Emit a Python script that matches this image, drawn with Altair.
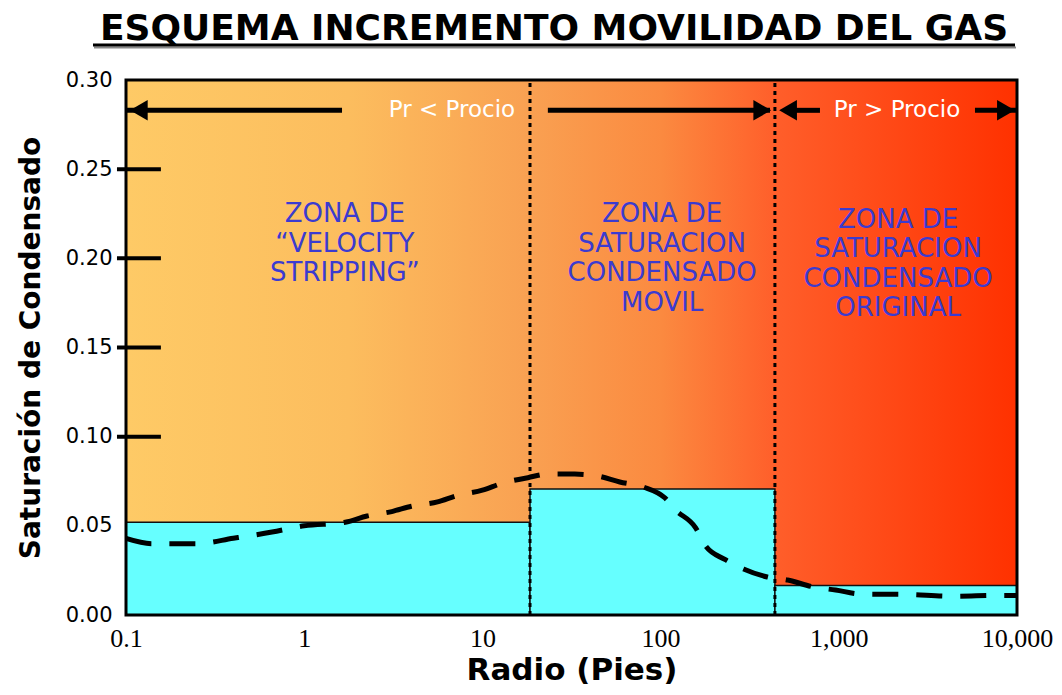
import altair as alt
import pandas as pd

# ---------------- data ----------------
title_text = "ESQUEMA INCREMENTO MOVILIDAD DEL GAS"
x_title = "Radio (Pies)"
y_title = "Saturación de Condensado"

x_ticks = [0.1, 1, 10, 100, 1000, 10000]
y_ticks = [0.0, 0.05, 0.10, 0.15, 0.20, 0.25, 0.30]
inner_ticks = [0.10, 0.15, 0.20, 0.25]

zone_edges = [0.1, 18.5, 438, 10000]
cyan_levels = [0.052, 0.0707, 0.0165]

curve_x = [0.1, 0.14, 0.25, 0.4, 0.66, 1.0, 1.7, 2.25, 3.1, 4.0, 5.6, 7.2, 10, 13, 18,
           23, 33, 44, 59, 80, 106, 121, 157, 178, 231, 292, 397, 516, 723, 960,
           1320, 2400, 4350, 8000, 10000]
curve_y = [0.043, 0.040, 0.040, 0.043, 0.0465, 0.050, 0.052, 0.0555, 0.058, 0.061, 0.0634,
           0.067, 0.070, 0.074, 0.077, 0.079, 0.079, 0.078, 0.0746, 0.0718, 0.0656, 0.059,
           0.049, 0.039, 0.031, 0.0258, 0.0213, 0.0196, 0.0157, 0.014, 0.0118, 0.0115,
           0.0105, 0.011, 0.011]

zone_label_x = [1.69, 102, 2150]
zone_label_y = [0.2321, 0.2321, 0.2288]
zone_labels = [
    ["ZONA DE", "\u201cVELOCITY", "STRIPPING\u201d"],
    ["ZONA DE", "SATURACION", "CONDENSADO", "MOVIL"],
    ["ZONA DE", "SATURACION", "CONDENSADO", "ORIGINAL"],
]

arrow_y = 0.283
arrow_seg_start = [0.1, 23.3, 519, 5810]
arrow_seg_end = [1.63, 411, 784, 10000]
arrow_head_x = [0.118, 372, 519, 8670]
arrow_head_shape = ["triangle-left", "triangle-right", "triangle-left", "triangle-right"]
pressure_label_x = [6.75, 2122]
pressure_labels = ["Pr < Procio", "Pr > Procio"]

# ---------------- frames ----------------
bounds = pd.DataFrame({"x": [x_ticks[0]], "x2": [x_ticks[-1]], "y": [y_ticks[0]], "y2": [y_ticks[-1]]})
cyan_df = pd.DataFrame({"x": zone_edges[:-1], "x2": zone_edges[1:], "y": [0.0] * 3, "y2": cyan_levels})
curve_df = pd.DataFrame({"x": curve_x, "y": curve_y})
divider_df = pd.DataFrame({"x": zone_edges[1:-1]})
zone_df = pd.DataFrame({"x": zone_label_x, "y": zone_label_y,
                        "t": ["\n".join(l) for l in zone_labels]})
seg_df = pd.DataFrame({"x": arrow_seg_start, "x2": arrow_seg_end, "y": [arrow_y] * 4})
head_df = pd.DataFrame({"x": arrow_head_x, "y": [arrow_y] * 4, "s": arrow_head_shape})
plab_df = pd.DataFrame({"x": pressure_label_x, "y": [arrow_y] * 2, "t": pressure_labels})
itick_df = pd.DataFrame({"y": inner_ticks, "xa": [0.089] * 4, "xb": [0.157] * 4})
title_df = pd.DataFrame({"t": [title_text]})

xs = alt.Scale(type="log", domain=[x_ticks[0], x_ticks[-1]], nice=False)
ys = alt.Scale(domain=[y_ticks[0], y_ticks[-1]], nice=False)

x_axis = alt.Axis(values=x_ticks, format=",", title=x_title, grid=False, ticks=False, domain=False,
                  labelFont="Liberation Serif", labelFontSize=26, labelColor="black",
                  labelPadding=10, labelFlush=False, labelOverlap=False,
                  titleFont="DejaVu Sans", titleFontSize=31, titleFontWeight="bold",
                  titleColor="black", titlePadding=4)
y_axis = alt.Axis(values=y_ticks, format=".2f", title=y_title, grid=False, ticks=False, domain=False,
                  labelFont="DejaVu Sans", labelFontSize=21, labelColor="black",
                  labelPadding=14, labelFlush=False, labelOverlap=False,
                  titleFont="DejaVu Sans", titleFontSize=28, titleFontWeight="bold",
                  titleColor="black", titlePadding=20)

X = lambda f: alt.X(f, type="quantitative", scale=xs, axis=x_axis)
Y = lambda f: alt.Y(f, type="quantitative", scale=ys, axis=y_axis)

grad = alt.Gradient(
    gradient="linear", x1=0, x2=1, y1=0, y2=0,
    stops=[alt.GradientStop(offset=0.0, color="#FECA66"),
           alt.GradientStop(offset=0.25, color="#FCBD5E"),
           alt.GradientStop(offset=0.45, color="#F9A152"),
           alt.GradientStop(offset=0.60, color="#FB8A40"),
           alt.GradientStop(offset=0.73, color="#FF5E2A"),
           alt.GradientStop(offset=1.0, color="#FF3100")])

background = alt.Chart(bounds).mark_rect(fill=grad).encode(x=X("x"), x2="x2", y=Y("y"), y2="y2")
cyan = alt.Chart(cyan_df).mark_rect(fill="#66FFFF", stroke="#111111", strokeWidth=1.5).encode(
    x=X("x"), x2="x2", y=Y("y"), y2="y2")
dividers = alt.Chart(divider_df).mark_rule(color="black", strokeWidth=3, strokeDash=[4, 4]).encode(
    x=X("x"), y=alt.datum(0.0, scale=ys), y2=alt.datum(0.3))
curve = alt.Chart(curve_df).mark_line(color="black", strokeWidth=5, strokeDash=[26, 18],
                                      interpolate="monotone").encode(x=X("x"), y=Y("y"))
zones = alt.Chart(zone_df).mark_text(font="DejaVu Sans", fontSize=26, color="#3B3BD0",
                                     lineBreak="\n", lineHeight=29.5, baseline="top",
                                     align="center").encode(x=X("x"), y=Y("y"), text="t")
segs = alt.Chart(seg_df).mark_rule(color="black", strokeWidth=5).encode(x=X("x"), x2="x2", y=Y("y"))
heads = alt.Chart(head_df).mark_point(filled=True, color="black", opacity=1, size=420).encode(
    x=X("x"), y=Y("y"), shape=alt.Shape("s:N", scale=None))
plabs = alt.Chart(plab_df).mark_text(font="DejaVu Sans", fontSize=23, color="white",
                                     baseline="middle", align="center").encode(
    x=X("x"), y=Y("y"), text="t")
frame = alt.Chart(bounds).mark_rect(fillOpacity=0, stroke="black", strokeWidth=3).encode(
    x=X("x"), x2="x2", y=Y("y"), y2="y2")
iticks = alt.Chart(itick_df).mark_rule(color="black", strokeWidth=4).encode(
    x=X("xa"), x2="xb", y=Y("y"))
title = alt.Chart(title_df).mark_text(font="DejaVu Sans", fontSize=36, fontWeight="bold",
                                      color="black", align="center", baseline="alphabetic").encode(
    x=alt.value(428), y=alt.value(-40), text="t")
underline_shadow = alt.Chart(title_df).mark_rule(color="#888888", strokeWidth=2).encode(
    x=alt.value(-32), x2=alt.value(890), y=alt.value(-32.5))
underline = alt.Chart(title_df).mark_rule(color="black", strokeWidth=3).encode(
    x=alt.value(-33), x2=alt.value(889), y=alt.value(-35))

chart = alt.layer(background, cyan, dividers, curve, zones, segs, heads, plabs, frame, iticks,
                  title, underline_shadow, underline).properties(
    width=891, height=535,
    autosize=alt.AutoSizeParams(type="none"),
    padding={"left": 118, "top": 72, "right": 37, "bottom": 72},
).configure_view(stroke=None).configure(background="white")

chart.save("out.html", embed_options={"renderer": "svg", "actions": False})
